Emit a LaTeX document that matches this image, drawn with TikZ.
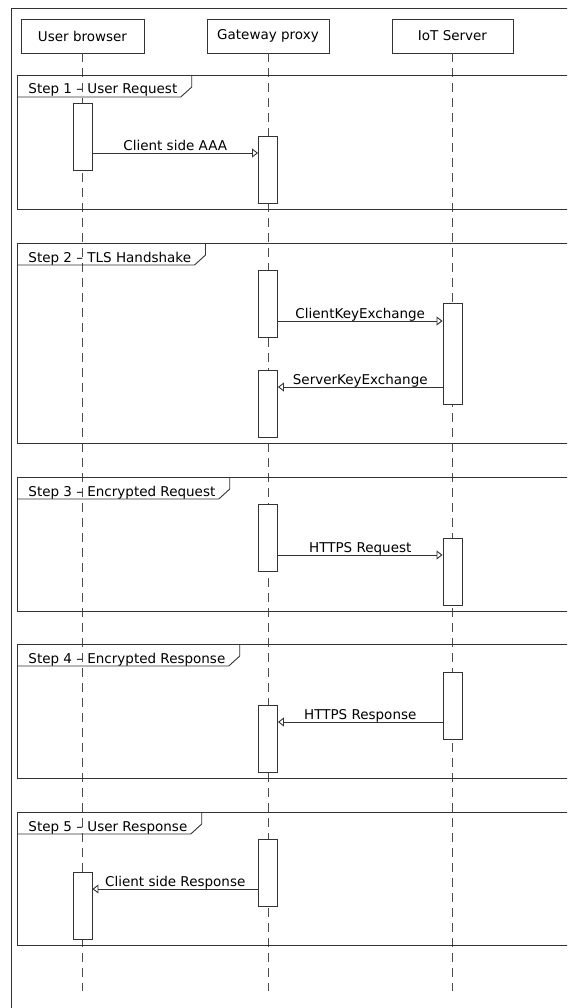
\documentclass[tikz,border=0pt]{standalone}
\usepackage{fontspec}
\setmainfont{DejaVu Sans}
\usetikzlibrary{arrows.meta}

\begin{document}
\begin{tikzpicture}[x=1pt, y=-1pt, line width=0.9pt,
    txt/.style={font=\fontsize{13.5}{16}\selectfont},
    head/.style={txt, draw=black!80, minimum height=34pt, inner sep=0pt},
    bar/.style={draw=black!80, fill=white, minimum width=19pt, minimum height=67pt, inner sep=0pt},
    life/.style={draw=black!70, dash pattern=on 9pt off 6pt},
    frm/.style={draw=black!80},
    steplbl/.style={txt, anchor=base west, inner xsep=3pt, inner ysep=0pt},
    lbl/.style={txt, above, text depth=0pt, inner sep=2pt},
    msg/.style={draw=black!80, -{Triangle[open, length=6pt, width=9pt]}}]
    \useasboundingbox (0,0) rectangle (567,1008);
    \clip (0,0) rectangle (567,1008);
    \draw[frm] (11,8) rectangle (600,1050);

    \node[head, minimum width=123pt] (ub) at (82.5,36) {User browser};
    \node[head, minimum width=122pt] (gw) at (268,36) {Gateway proxy};
    \node[head, minimum width=121pt] (iot) at (452.5,36) {IoT Server};

    \foreach \l in {ub,gw,iot}
        \draw[life] (\l.south) -- (\l.south |- 0,991);

    \foreach \t/\b/\s [count=\i] in {75/209/User Request, 243/443/TLS Handshake,
        477/611/Encrypted Request, 644/778/Encrypted Response, 812/945/User Response} {
        \draw[frm] (17,\t) rectangle (600,\b);
        \node[steplbl] (s\i) at (25,\t+19) {Step \i{} – \s};
        \draw[frm] (17,\t+22) -- (s\i.east |- 0,\t+22) -- ++(11,-10) -- ++(0,-12);
    }

    \node[bar] (ub1) at (ub |- 0,136.5) {};
    \node[bar] (gw1) at (gw |- 0,169.5) {};
    \node[bar] (gw2) at (gw |- 0,303.5) {};
    \node[bar, minimum height=101pt] (iot1) at (iot |- 0,353.5) {};
    \node[bar] (gw3) at (gw |- 0,404) {};
    \node[bar] (gw4) at (gw |- 0,537.5) {};
    \node[bar] (iot2) at (iot |- 0,571.5) {};
    \node[bar] (iot3) at (iot |- 0,705.5) {};
    \node[bar] (gw5) at (gw |- 0,739) {};
    \node[bar] (gw6) at (gw |- 0,872.5) {};
    \node[bar] (ub2) at (ub |- 0,906) {};

    \draw[msg] (ub1.east |- 0,153) -- node[lbl] {Client side AAA} (gw1.west |- 0,153);
    \draw[msg] (gw2.east |- 0,321) -- node[lbl] {ClientKeyExchange} (iot1.west |- 0,321);
    \draw[msg] (iot1.west |- 0,387) -- node[lbl] {ServerKeyExchange} (gw3.east |- 0,387);
    \draw[msg] (gw4.east |- 0,555) -- node[lbl] {HTTPS Request} (iot2.west |- 0,555);
    \draw[msg] (iot3.west |- 0,722) -- node[lbl] {HTTPS Response} (gw5.east |- 0,722);
    \draw[msg] (gw6.west |- 0,889) -- node[lbl] {Client side Response} (ub2.east |- 0,889);
\end{tikzpicture}
\end{document}
